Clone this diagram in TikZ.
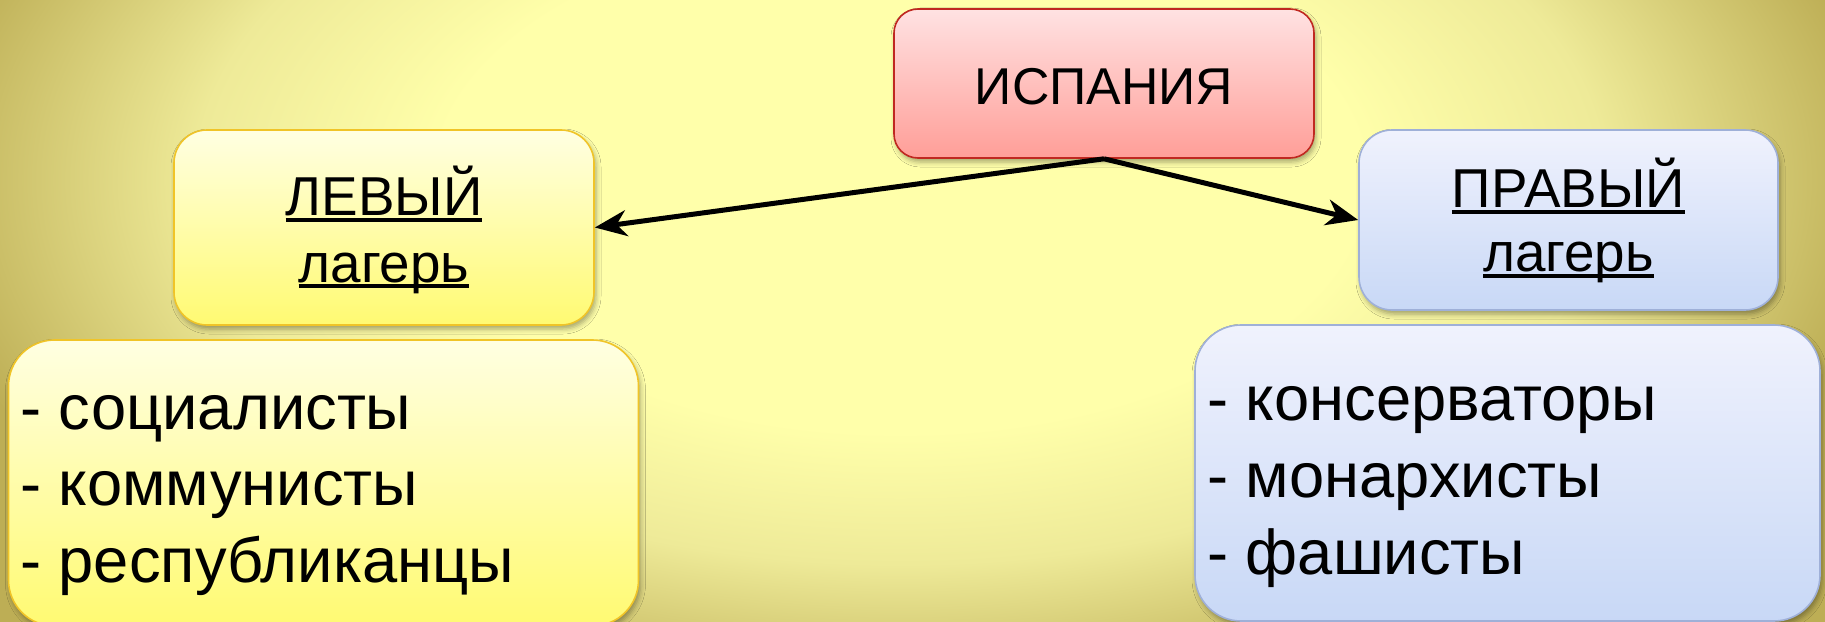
\documentclass[tikz,border=0pt]{standalone}
\usepackage{fontspec}
\setmainfont{Liberation Sans}
\usetikzlibrary{arrows.meta,shadows.blur}
\definecolor{bglight}{HTML}{FFFFAA}
\definecolor{bgmid}{HTML}{EEEA98}
\definecolor{bgdark}{HTML}{BDAE55}
\definecolor{ytop}{HTML}{FFFFE2}
\definecolor{ybot}{HTML}{FFFA72}
\definecolor{yline}{HTML}{F0C428}
\definecolor{btop}{HTML}{F0F2FD}
\definecolor{bbot}{HTML}{C8D8F6}
\definecolor{bline}{HTML}{9FB0D8}
\definecolor{rtop}{HTML}{FFE2E2}
\definecolor{rbot}{HTML}{FF9E98}
\definecolor{rline}{HTML}{C02820}
\pgfdeclareradialshading{bgshade}{\pgfpoint{0bp}{0bp}}{color(0bp)=(bglight); color(10.5bp)=(bglight); color(16bp)=(bgmid); color(22.5bp)=(bgdark); color(50bp)=(bgdark)}
\newcommand\myul[1]{\leavevmode\setbox0\hbox{#1}\rlap{\vrule width \wd0 height -2pt depth 6.5pt}\box0}
\begin{document}
\begin{tikzpicture}[x=1bp,y=-1bp,
  boxbase/.style={draw, line width=1.6bp, inner sep=0pt,
    blur shadow={shadow xshift=2bp, shadow yshift=-4bp, shadow blur radius=5bp, shadow opacity=35}},
  ybox/.style={boxbase, top color=ytop, bottom color=ybot, draw=yline},
  bbox/.style={boxbase, top color=btop, bottom color=bbot, draw=bline},
  rbox/.style={boxbase, top color=rtop, bottom color=rbot, draw=rline},
  title/.style={inner sep=0pt, font=\fontsize{55}{60}\selectfont},
  item/.style={inner sep=0pt, font=\fontsize{63.5}{70}\selectfont},
  arr/.style={line width=5bp, -{Stealth[length=32bp,width=26bp,inset=10bp]}}]
\useasboundingbox (0,0) rectangle (1825,622);
\fill[bgdark] (0,0) rectangle (1825,622);
\begin{scope}
  \clip (0,0) rectangle (1825,622);
  \shade[shading=bgshade] (-200,-420) rectangle (2000,780);
\end{scope}
% boxes
\node[rbox, rounded corners=24bp, minimum width=420bp, minimum height=149bp] (spain) at (1104,83.5) {};
\node[ybox, rounded corners=33bp, minimum width=420bp, minimum height=195bp] (lt) at (384,227.5) {};
\node[bbox, rounded corners=33bp, minimum width=419bp, minimum height=180bp] (rt) at (1568.5,220) {};
\node[ybox, rounded corners=46bp, minimum width=630bp, minimum height=286bp] (lb) at (323.5,483) {};
\node[bbox, rounded corners=46bp, minimum width=625bp, minimum height=296bp] (rb) at (1507.5,473) {};
% texts
\node[title, anchor=base] (spainT) at (1104,105) {\fontsize{52}{60}\selectfont ИСПАНИЯ};
\node[title, anchor=base] (ltA) at (384,216) {\myul{ЛЕВЫЙ}};
\node[title, anchor=base] (ltB) at (384,282) {\myul{лагерь}};
\node[title, anchor=base] (rtA) at (1568.5,208) {\myul{ПРАВЫЙ}};
\node[title, anchor=base] (rtB) at (1568.5,272) {\myul{лагерь}};
\node[item, anchor=base west] (l1) at (20,429) {- социалисты};
\node[item, anchor=base west] (l2) at (20,505) {- коммунисты};
\node[item, anchor=base west] (l3) at (20,582) {- республиканцы};
\node[item, anchor=base west] (r1) at (1207,420) {- консерваторы};
\node[item, anchor=base west] (r2) at (1207,497) {- монархисты};
\node[item, anchor=base west] (r3) at (1207,574) {- фашисты};
% arrows
\draw[arr] (spain.south) -- (lt.east);
\draw[arr] (spain.south) -- (rt.west);
\end{tikzpicture}
\end{document}
